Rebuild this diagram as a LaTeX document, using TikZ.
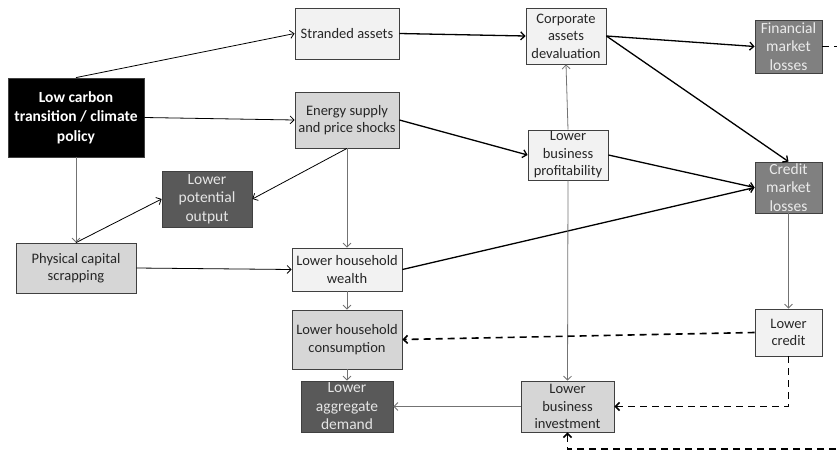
\documentclass[tikz,border=0pt]{standalone}
\usepackage{fontspec}
\setmainfont{Carlito}
\usepackage{tikz}
\usetikzlibrary{arrows.meta}

\begin{document}
\begin{tikzpicture}[x=1pt,y=-1pt]
	\tikzstyle{B} = [draw=black!75,line width=0.8pt,inner sep=0pt,align=center,text=black!85,font=\fontsize{14.5}{17.5}\selectfont]
	\tikzstyle{Nl} = [B,fill=black!5]
	\tikzstyle{Nm} = [B,fill=black!16]
	\tikzstyle{Nd} = [B,fill=black!65,text=black!10,font=\fontsize{15.5}{18.5}\selectfont]
	\tikzstyle{Ng} = [B,fill=black!50,text=black!8,font=\fontsize{15.5}{18.5}\selectfont]
	\tikzstyle{a} = [-{Straight Barb[length=4pt,width=8pt]},line width=0.8pt]
	\tikzstyle{ag} = [a,color=black!55]
	\tikzstyle{ab} = [a,line width=1.3pt]
	\tikzstyle{ad} = [a,line width=1.6pt,dash pattern=on 7pt off 5pt]
	\useasboundingbox (0,0) rectangle (837,450);
	% boxes
	\node[B,fill=black,text=white,font=\bfseries\fontsize{15.5}{19.5}\selectfont,minimum width=136,minimum height=79](lcp) at (76,117.5) {Low carbon\\transition / climate\\policy};
	\node[Nl,minimum width=104,minimum height=51](sa) at (347,33.5) {Stranded assets};
	\node[Nm,minimum width=104,minimum height=56](esp) at (347,120) {Energy supply\\and price shocks};
	\node[Nd,minimum width=90,minimum height=56](lpo) at (207,199) {Lower\\potential\\output};
	\node[Nm,minimum width=120,minimum height=50](pcs) at (76,268) {Physical capital\\scrapping};
	\node[Nl,minimum width=110,minimum height=43](lhw) at (347,269.5) {Lower household\\wealth};
	\node[Nm,minimum width=110,minimum height=59](lhc) at (347,339.5) {Lower household\\consumption};
	\node[Nd,minimum width=92,minimum height=51](lad) at (347,406.5) {Lower\\aggregate\\demand};
	\node[Nl,minimum width=80,minimum height=56](cad) at (566,36) {Corporate\\assets\\devaluation};
	\node[Nl,minimum width=80,minimum height=50](lbp) at (568,155) {Lower\\business\\profitability};
	\node[Ng,minimum width=67,minimum height=53](fml) at (788.5,46.5) {Financial\\market\\losses};
	\node[Ng,minimum width=67,minimum height=51](cml) at (788.5,187.5) {Credit\\market\\losses};
	\node[Nl,minimum width=67,minimum height=47](lc) at (788.5,332.5) {Lower\\credit};
	\node[Nm,minimum width=93,minimum height=51](lbi) at (567.5,406.5) {Lower\\business\\investment};
	\coordinate (loop) at (850,449);
	% links
	\draw[a](lcp.north) to (sa.west);
	\draw[a](lcp.east) to (esp.west);
	\draw[ag](lcp.south) to (pcs.north);
	\draw[a](pcs.north) to (lpo.west);
	\draw[a](esp.south) to (lpo.east);
	\draw[ag](esp.south) to (lhw.north);
	\draw[a](pcs.east) to (lhw.west);
	\draw[ag](lhw.south) to (lhc.north);
	\draw[ag](lhc.south) to (lad.north);
	\draw[ab](sa.east) to (cad.west);
	\draw[ab](esp.east) to (lbp.west);
	\draw[ag](lbp.north) to (cad.south);
	\draw[ab](cad.east) to (fml.west);
	\draw[ab](cad.east) to (cml.north);
	\draw[ab](lbp.east) to (cml.west);
	\draw[ab](lhw.east) to (cml.west);
	\draw[ag](lbp.south) to (lbi.north);
	\draw[ag](cml.south) to (lc.north);
	\draw[ag](lbi.west) to (lad.east);
	\draw[ad](lc.west) to (lhc.east);
	\draw[ad](lc.south) |- (lbi.east);
	\draw[ad](fml.east) -| (loop) -| (lbi.south);
\end{tikzpicture}
\end{document}
